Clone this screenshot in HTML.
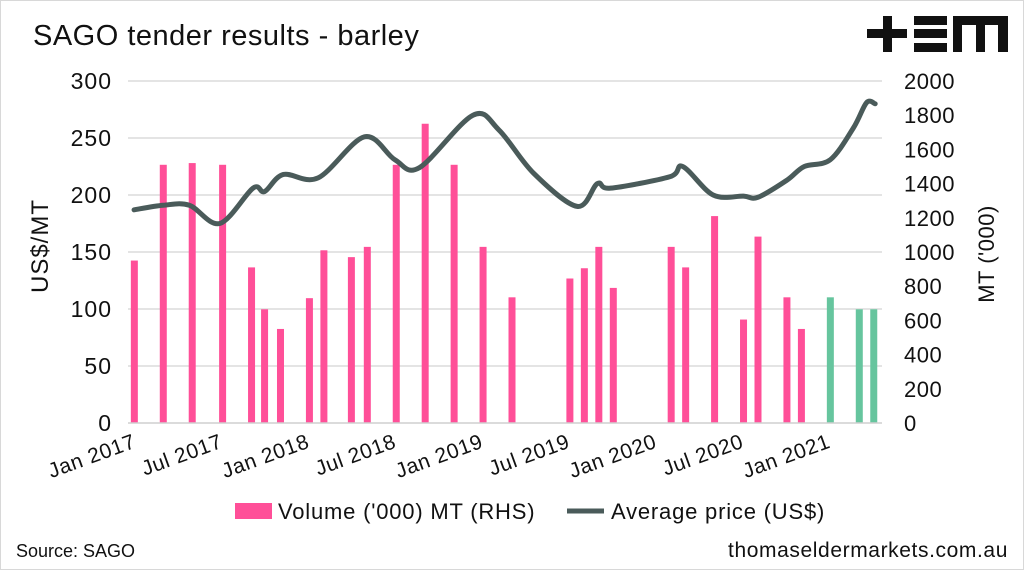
<!DOCTYPE html>
<html><head><meta charset="utf-8"><style>
body{margin:0;background:#fff;font-family:"Liberation Sans",sans-serif;}
#wrap{position:relative;width:1024px;height:570px;overflow:hidden;background:#fff;}
</style></head><body>
<div id="wrap">
<svg id="chart" width="1024" height="570" xmlns="http://www.w3.org/2000/svg">
<rect x="0" y="0" width="1024" height="570" fill="#fff" stroke="#d8d8d8" stroke-width="2"/>
<text x="33" y="45" font-size="29" fill="#111" letter-spacing="0.5">SAGO tender results - barley</text>
<g fill="#111">
<rect x="867" y="29" width="40" height="9"/><rect x="883" y="16" width="9" height="36"/>
<rect x="914" y="16" width="33" height="9"/><rect x="914" y="29" width="33" height="9"/><rect x="914" y="43" width="33" height="9"/>
<path d="M953 52 V16 H1008 V52 H998 V25 H985 V52 H976 V25 H962 V52 Z"/>
</g>
<g id="grid"></g><g id="bars"></g><g id="line"></g><g id="axes"></g>
<text transform="translate(48,246) rotate(-90)" text-anchor="middle" font-size="24" letter-spacing="1" fill="#111">US$/MT</text>
<text transform="translate(994,254) rotate(-90)" text-anchor="middle" font-size="22" letter-spacing="0.5" fill="#111">MT ('000)</text>
<g>
<g><rect x="235" y="503" width="37" height="16" fill="#ff4f98"/><text x="278" y="519" font-size="22" letter-spacing="0.8" fill="#111">Volume ('000) MT (RHS)</text></g>
<g><line x1="567" y1="511" x2="604" y2="511" stroke="#4a5b5a" stroke-width="5"/><text x="611" y="519" font-size="22" letter-spacing="0.8" fill="#111">Average price (US$)</text></g>
</g>
<text x="16" y="557" font-size="18" fill="#111">Source: SAGO</text>
<text x="1008" y="557" font-size="21" letter-spacing="0.6" fill="#111" text-anchor="end">thomaseldermarkets.com.au</text>
</svg>
</div>
<script>
const leftTicks=[0,50,100,150,200,250,300];
const rightTicks=[0,200,400,600,800,1000,1200,1400,1600,1800,2000];
const xTickLabels=["Jan 2017","Jul 2017","Jan 2018","Jul 2018","Jan 2019","Jul 2019","Jan 2020","Jul 2020","Jan 2021"];
const xTickMonths=[0,6,12,18,24,30,36,42,48];
const barMonths=[0.3,2.3,4.3,6.4,8.4,9.3,10.4,12.4,13.4,15.3,16.4,18.4,20.4,22.4,24.4,26.4,30.4,31.4,32.4,33.4,37.4,38.4,40.4,42.4,43.4,45.4,46.4,48.4,50.4,51.4];
const barVolumes=[950,1510,1520,1510,910,665,550,730,1010,970,1030,1510,1750,1510,1030,735,845,905,1030,790,1030,910,1210,605,1090,735,550,735,665,665];
const barForecast=[0,0,0,0,0,0,0,0,0,0,0,0,0,0,0,0,0,0,0,0,0,0,0,0,0,0,0,1,1,1];
const lineMonths=[0.28,2.3,4.1,6.2,8.5,9.3,10.6,13.0,16.2,18.3,20.0,23.7,25.5,27.9,30.9,32.3,33.2,37.3,38.2,40.3,42.4,43.4,45.4,46.6,48.4,50.0,50.9,51.5];
const linePrices=[187,191,191,175,206,203,218,215,251,231,224,270,257,219,190,210,206,216,225,200,199,198,213,225,231,259,281,280];
const ns="http://www.w3.org/2000/svg";
const X0=130,PXM=14.47,Y0=423,YT=81;
const xs=m=>X0+m*PXM;
const yL=v=>Y0-(v/300)*(Y0-YT);
const yR=v=>Y0-(v/2000)*(Y0-YT);
function mk(tag,attrs,parent){const e=document.createElementNS(ns,tag);for(const k in attrs)e.setAttribute(k,attrs[k]);document.getElementById(parent).appendChild(e);return e;}
leftTicks.forEach((t,i)=>{
  if(t>0){const g=mk('line',{x1:128,x2:882,y1:yL(t),y2:yL(t),stroke:'#dcdcdc','stroke-width':1.5},'grid');
  
  }
  const l=mk('text',{x:112,y:yL(t)+8,'font-size':23,'letter-spacing':1,'text-anchor':'end',fill:'#111'},'axes');l.textContent=t;
  
  
});
rightTicks.forEach(t=>{
  const l=mk('text',{x:904,y:yR(t)+8,'font-size':22,'letter-spacing':0.5,fill:'#111'},'axes');l.textContent=t;
  
  
});
const ax=mk('line',{x1:128,x2:882,y1:Y0,y2:Y0,stroke:'#cfcfcf','stroke-width':1.5},'axes');


xTickLabels.forEach((s,i)=>{
  const x=xs(xTickMonths[i]);
  const t=mk('text',{x:0,y:0,'font-size':21,'letter-spacing':0.6,'text-anchor':'end',fill:'#111',transform:`translate(${x+7},${Y0+24}) rotate(-20)`},'axes');t.textContent=s;
  
  
});
barMonths.forEach((m,i)=>{
  const x=xs(m),y=yR(barVolumes[i]);
  const b=mk('rect',{x:x-3.5,y:y,width:7,height:Y0-y,fill:barForecast[i]?'#66c59e':'#ff4f98'},'bars');
  
  
});
const pts=lineMonths.map((m,i)=>[xs(m),yL(linePrices[i])]);
let d=`M${pts[0][0]},${pts[0][1]}`;
for(let i=0;i<pts.length-1;i++){
  const p0=pts[i-1]||pts[i],p1=pts[i],p2=pts[i+1],p3=pts[i+2]||p2;
  const c1=[p1[0]+(p2[0]-p0[0])/6,p1[1]+(p2[1]-p0[1])/6],c2=[p2[0]-(p3[0]-p1[0])/6,p2[1]-(p3[1]-p1[1])/6];
  d+=` C${c1[0]},${c1[1]} ${c2[0]},${c2[1]} ${p2[0]},${p2[1]}`;
}
const ln=mk('path',{d:d,fill:'none',stroke:'#4a5b5a','stroke-width':5,'stroke-linecap':'round','stroke-linejoin':'round'},'line');


</script>
</body></html>
